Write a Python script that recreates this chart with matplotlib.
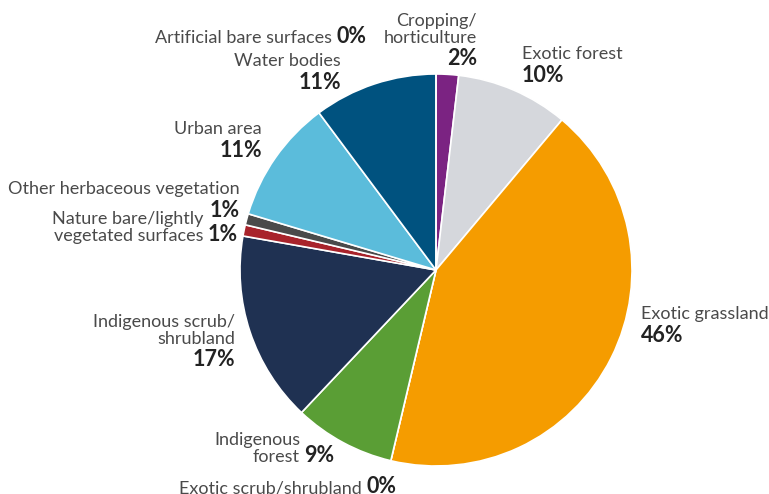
import matplotlib.pyplot as plt

# land cover shares (%), clockwise from 12 o'clock
categories = [
    "Cropping/\nhorticulture",
    "Exotic forest",
    "Exotic grassland",
    "Exotic scrub/shrubland",
    "Indigenous\nforest",
    "Indigenous scrub/\nshrubland",
    "Nature bare/lightly\nvegetated surfaces",
    "Other herbaceous vegetation",
    "Urban area",
    "Water bodies",
    "Artificial bare surfaces",
]
shares = [2, 10, 46, 0, 9, 17, 1, 1, 11, 11, 0]

colors = ["#7b2382", "#d5d7dc", "#f59c00", "#7a7a7a", "#5a9e35", "#1f3152",
          "#a8232b", "#4a4a4a", "#5bbcdb", "#00527f", "#999999"]

# label anchor in pixels (x, top y), horizontal alignment, where the % goes
label_layout = [
    (477, 13, "right", "below"),
    (522, 46, "left", "below"),
    (641, 306, "left", "below"),
    (362, 480, "right", "after"),
    (300, 432, "right", "after"),
    (235, 314, "right", "below"),
    (203, 211, "right", "after"),
    (240, 181, "right", "below"),
    (262, 121, "right", "below"),
    (341, 53, "right", "below"),
    (332, 30, "right", "after"),
]

W, H = 769, 494
plt.rcParams["font.family"] = ["Lato", "DejaVu Sans"]
fig = plt.figure(figsize=(W / 100, H / 100), dpi=100)

cx, cy, r = 436, 270, 196
ax = fig.add_axes([(cx - r) / W, (H - cy - r) / H, 2 * r / W, 2 * r / H])
ax.pie(shares, colors=colors, startangle=90, counterclock=False, radius=1,
       wedgeprops=dict(edgecolor="white", linewidth=1.2))
ax.set_xlim(-1.0, 1.0)
ax.set_ylim(-1.0, 1.0)
ax.set_aspect("equal")
ax.axis("off")

fs = 13
pfs = 15.5
for name, val, (x, y, ha, mode) in zip(categories, shares, label_layout):
    t = fig.text(x / W, 1 - y / H, name, ha=ha, va="top", fontsize=fs,
                 color="#4a4a4a", linespacing=1.05)
    pct = f"{val}%"
    if mode == "below":
        ax_x = 1 if ha == "right" else 0
        ax.annotate(pct, xy=(ax_x, 0), xycoords=t, xytext=(0, -2),
                    textcoords="offset points", ha=ha, va="top",
                    fontsize=pfs, fontweight="bold", color="#222222",
                    annotation_clip=False)
    else:
        ax.annotate(pct, xy=(1, 0), xycoords=t, xytext=(3, -1),
                    textcoords="offset points", ha="left", va="bottom",
                    fontsize=pfs, fontweight="bold", color="#222222",
                    annotation_clip=False)

fig.savefig("out.png", dpi=100)
